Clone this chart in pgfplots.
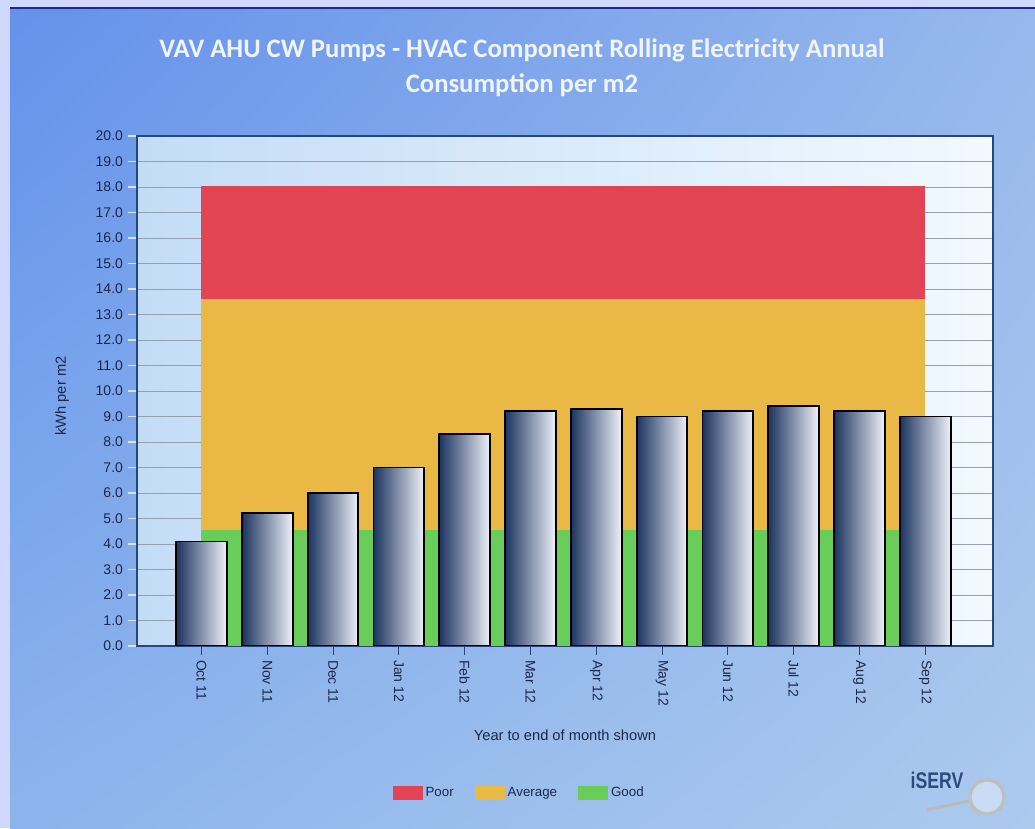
\documentclass[border=0pt]{standalone}
\usepackage{pgfplots}
\pgfplotsset{compat=1.18}
\usetikzlibrary{shadings}
\usepackage{fontspec}
\setmainfont{Liberation Sans}
\newfontfamily\titlefont{Carlito}
\definecolor{bordercol}{RGB}{208,216,255}
\definecolor{topline}{RGB}{30,40,140}
\definecolor{panelUL}{RGB}{100,145,235}
\definecolor{panelUR}{RGB}{150,184,236}
\definecolor{panelLL}{RGB}{140,180,236}
\definecolor{panelLR}{RGB}{172,202,238}
\definecolor{plotL}{RGB}{195,220,246}
\definecolor{plotR}{RGB}{242,249,255}
\definecolor{gridcol}{RGB}{150,160,172}
\definecolor{axiscol}{RGB}{40,70,120}
\definecolor{ytickcol}{RGB}{215,228,245}
\definecolor{poorcol}{RGB}{226,68,84}
\definecolor{avgcol}{RGB}{234,184,68}
\definecolor{goodcol}{RGB}{105,205,90}
\definecolor{barL}{RGB}{28,52,95}
\definecolor{barM}{RGB}{120,142,182}
\definecolor{barR}{RGB}{238,241,249}
\definecolor{titlecol}{RGB}{240,244,255}
\definecolor{textcol}{RGB}{28,40,75}
\definecolor{logocol}{RGB}{45,75,125}
\pgfplotsset{shadedbar/.style={ybar, bar shift=0pt, bar width=38pt, draw=black, line width=1.4pt,
  left color=barL, middle color=barM, right color=barR, forget plot}}
\begin{document}
\begin{tikzpicture}
\begin{scope}[x=0.75pt,y=0.75pt]
\useasboundingbox (0,0) rectangle (1035,828);
\fill[bordercol] (0,0) rectangle (1035,828);
\shade[upper left=panelUL, upper right=panelUR, lower left=panelLL, lower right=panelLR] (10,0) rectangle (1035,820);
\draw[line width=1.5pt, topline] (10,820) -- (1035,820);
\node[align=center, text=titlecol, font=\titlefont\bfseries\fontsize{20}{26.5}\selectfont] at (522,760) {VAV AHU CW Pumps - HVAC Component Rolling Electricity Annual\\Consumption per m2};
% logo
\draw[line width=2.2pt, gray!55] (926,18) -- (969,27);
\fill[white, opacity=0.35] (987,31) circle (17);
\draw[line width=2.5pt, gray!50] (987,31) circle (17);
\node[anchor=west, xscale=0.78, text=logocol, font=\bfseries\fontsize{17}{18}\selectfont] at (907,48) {iSERV};
\end{scope}
\begin{axis}[
  at={(102.75pt,136.5pt)}, anchor=south west,
  scale only axis, width=642pt, height=382.5pt,
  xmin=-0.98, xmax=12.03, ymin=0, ymax=20,
  xtick={0,...,11},
  xticklabels={Oct 11,Nov 11,Dec 11,Jan 12,Feb 12,Mar 12,Apr 12,May 12,Jun 12,Jul 12,Aug 12,Sep 12},
  ytick={0,1,...,20},
  /pgf/number format/assume math mode=true,
  yticklabel style={/pgf/number format/fixed, /pgf/number format/fixed zerofill, /pgf/number format/precision=1},
  tick label style={font=\fontsize{10.5}{12}\selectfont, text=textcol},
  xticklabel style={rotate=-90, anchor=west},
  xtick pos=bottom, ytick pos=left,
  tick align=outside, major tick length=7pt,
  xtick style={axiscol, line width=0.8pt},
  ytick style={ytickcol, line width=0.8pt},
  axis line style={axiscol, line width=0.8pt},
  axis background/.style={left color=plotL, right color=plotR},
  ymajorgrids, grid style={gridcol, line width=0.5pt},
  xlabel={Year to end of month shown},
  ylabel={kWh per m2},
  label style={font=\fontsize{11}{12}\selectfont, text=textcol},
  xlabel style={at={(axis description cs:0.5,-0.1745)}, anchor=center},
  ylabel style={at={(axis description cs:-0.0876,0.49)}, anchor=center},
  legend style={at={(0.447,-0.288)}, anchor=center, draw=none, fill=none,
    legend columns=3, font=\fontsize{10}{12}\selectfont, text=textcol,
    /tikz/every even column/.append style={column sep=14pt}},
  legend image code/.code={\fill[#1] (0pt,-5.5pt) rectangle (22.5pt,5.5pt);},
]
\addplot[fill=poorcol, draw=none] coordinates {(0,13.6) (11,13.6) (11,18.05) (0,18.05)};
\addlegendentry{Poor}
\addplot[fill=avgcol, draw=none] coordinates {(0,4.55) (11,4.55) (11,13.6) (0,13.6)};
\addlegendentry{Average}
\addplot[fill=goodcol, draw=none] coordinates {(0,0) (11,0) (11,4.55) (0,4.55)};
\addlegendentry{Good}
\addplot[shadedbar] coordinates {(0,4.1)};
\addplot[shadedbar] coordinates {(1,5.2)};
\addplot[shadedbar] coordinates {(2,6.0)};
\addplot[shadedbar] coordinates {(3,7.0)};
\addplot[shadedbar] coordinates {(4,8.3)};
\addplot[shadedbar] coordinates {(5,9.2)};
\addplot[shadedbar] coordinates {(6,9.3)};
\addplot[shadedbar] coordinates {(7,9.0)};
\addplot[shadedbar] coordinates {(8,9.2)};
\addplot[shadedbar] coordinates {(9,9.4)};
\addplot[shadedbar] coordinates {(10,9.2)};
\addplot[shadedbar] coordinates {(11,9.0)};
\end{axis}
\end{tikzpicture}
\end{document}
